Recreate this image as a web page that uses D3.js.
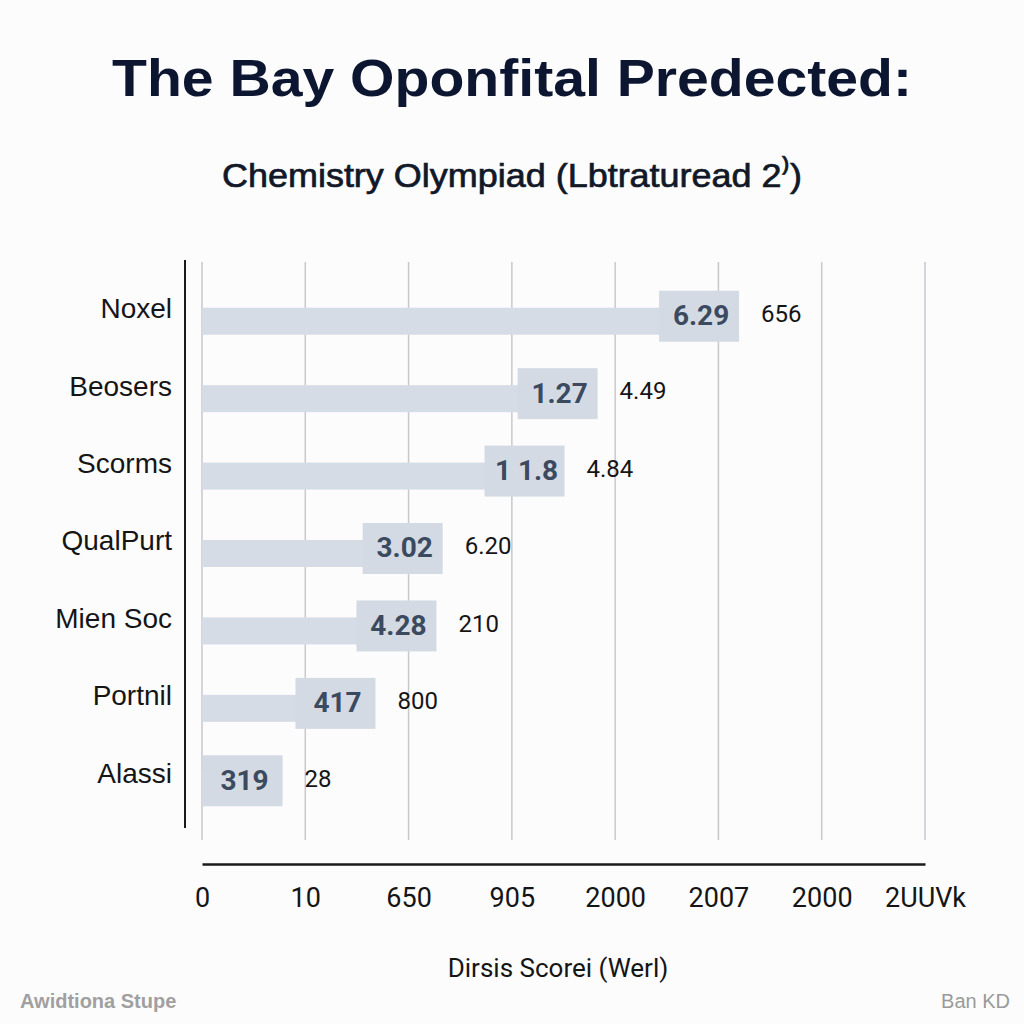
<!DOCTYPE html>
<html>
<head>
<meta charset="utf-8">
<script src="https://cdn.jsdelivr.net/npm/d3@7"></script>
<style>
  html, body { margin: 0; padding: 0; background: #fcfcfd; }
  svg { display: block; }
</style>
</head>
<body>
<svg id="chart" width="1024" height="1024"></svg>
<script>
// ---- data ----
const categories = ["Noxel", "Beosers", "Scorms", "QualPurt", "Mien Soc", "Portnil", "Alassi"];
const barValues = [5.2, 3.83, 3.51, 2.33, 2.27, 1.68, 0.78];           // bar length in grid units
const boxLabels = ["6.29", "1.27", "1 1.8", "3.02", "4.28", "417", "319"];
const sideLabels = ["656", "4.49", "4.84", "6.20", "210", "800", "28"];
const tickLabels = ["0", "10", "650", "905", "2000", "2007", "2000", "2UUVk"];

const titleText = "The Bay Oponfital Predected:";
const subtitleText = "Chemistry Olympiad (Lbtraturead 2\u207E)";
const xTitle = "Dirsis Scorei (Werl)";
const footLeft = "Awidtiona Stupe";
const footRight = "Ban KD";

// ---- layout ----
const svg = d3.select("#chart");
const W = 1024;
const plotLeft = 202, plotRight = 925, plotTop = 262, plotBottom = 840;

svg.append("rect").attr("width", W).attr("height", 1024).attr("fill", "#fcfcfd");

const x = d3.scaleLinear().domain([0, tickLabels.length - 1]).range([plotLeft, plotRight]);
const y = d3.scaleBand().domain(categories).range([277, 819]).padding(0);

// title + subtitle
svg.append("text").attr("x", 512).attr("y", 96).attr("text-anchor", "middle")
  .attr("font-family", "Liberation Sans, Arial, sans-serif").attr("font-weight", 700)
  .attr("font-size", 52).attr("fill", "#0d1630")
  .attr("textLength", 800).attr("lengthAdjust", "spacingAndGlyphs").text(titleText);
svg.append("text").attr("x", 512).attr("y", 187).attr("text-anchor", "middle")
  .attr("font-family", "Liberation Sans, Arial, sans-serif").attr("font-weight", 400)
  .attr("font-size", 34).attr("fill", "#111827").attr("stroke", "#111827").attr("stroke-width", 0.7)
  .attr("textLength", 580).attr("lengthAdjust", "spacingAndGlyphs").text(subtitleText);

// gridlines
svg.append("g").selectAll("line").data(d3.range(tickLabels.length)).join("line")
  .attr("x1", d => x(d)).attr("x2", d => x(d))
  .attr("y1", plotTop).attr("y2", plotBottom)
  .attr("stroke", "#c9c9cc").attr("stroke-width", 1.5);

// y axis line
svg.append("line").attr("x1", 185).attr("x2", 185).attr("y1", 260).attr("y2", 828)
  .attr("stroke", "#1a1a1a").attr("stroke-width", 2);

// bottom axis
const xAxis = d3.axisBottom(x).tickValues(d3.range(tickLabels.length))
  .tickFormat(i => tickLabels[i]).tickSize(0).tickPadding(24);
const gx = svg.append("g").attr("transform", "translate(0,864)").call(xAxis);
gx.select(".domain").attr("stroke", "#1a1a1a").attr("stroke-width", 2.5);
gx.selectAll("text").attr("font-family", "Roboto, Liberation Sans, sans-serif")
  .attr("font-size", 27).attr("fill", "#151515");

// rows
const rows = svg.append("g").selectAll("g").data(categories).join("g")
  .attr("transform", d => `translate(0,${y(d) + y.bandwidth() / 2})`);

rows.append("text").attr("x", 172).attr("y", -5).attr("text-anchor", "end")
  .attr("dominant-baseline", "middle")
  .attr("font-family", "Liberation Sans, Arial, sans-serif").attr("font-size", 28)
  .attr("fill", "#151515").text(d => d);

// thin bar
rows.append("rect").attr("x", x(0))
  .attr("y", -8).attr("height", 27)
  .attr("width", (d, i) => Math.max(0, x(barValues[i]) - x(0) - 40))
  .attr("fill", "#d6dce6");

// box
const boxW = 80;
rows.append("rect")
  .attr("x", (d, i) => x(barValues[i]) - boxW)
  .attr("y", -25).attr("height", 51).attr("width", boxW)
  .attr("fill", "#d3dae4");

rows.append("text")
  .attr("x", (d, i) => x(barValues[i]) - boxW / 2 + 2)
  .attr("y", 2).attr("text-anchor", "middle").attr("dominant-baseline", "middle")
  .attr("font-family", "Roboto, Liberation Sans, sans-serif").attr("font-weight", 700)
  .attr("font-size", 28).attr("fill", "#3b4a5f").text((d, i) => boxLabels[i]);

rows.append("text")
  .attr("x", (d, i) => x(barValues[i]) + 22)
  .attr("y", 0).attr("dominant-baseline", "middle")
  .attr("font-family", "Roboto, Liberation Sans, sans-serif")
  .attr("font-size", 24).attr("fill", "#151515").text((d, i) => sideLabels[i]);

// axis title + footer
svg.append("text").attr("x", 558).attr("y", 977).attr("text-anchor", "middle")
  .attr("font-family", "Roboto, Liberation Sans, sans-serif").attr("font-size", 26)
  .attr("fill", "#151515").text(xTitle);
svg.append("text").attr("x", 20).attr("y", 1008)
  .attr("font-family", "Liberation Sans, Arial, sans-serif").attr("font-size", 20)
  .attr("font-weight", 700).attr("fill", "#a0a0a0").text(footLeft);
svg.append("text").attr("x", 1010).attr("y", 1008).attr("text-anchor", "end")
  .attr("font-family", "Liberation Sans, Arial, sans-serif").attr("font-size", 20)
  .attr("fill", "#9a9a9a").text(footRight);
</script>
</body>
</html>
